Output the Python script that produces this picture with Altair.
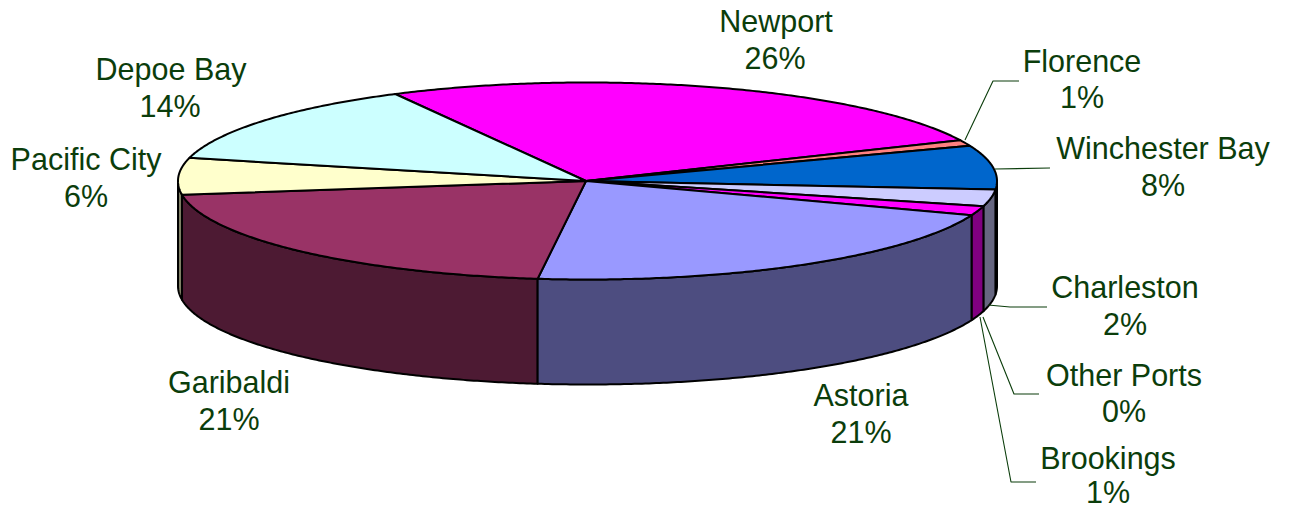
import numpy as np
import pandas as pd
import altair as alt

ports = ["Newport", "Florence", "Winchester Bay", "Charleston", "Other Ports", "Brookings",
         "Astoria", "Garibaldi", "Pacific City", "Depoe Bay"]
labels = ["26%", "1%", "8%", "2%", "0%", "1%", "21%", "21%", "6%", "14%"]
shares = [25.98, 0.97, 7.22, 2.72, 0.0, 1.53, 21.3, 20.83, 6.0, 13.45]
top_colors = ["#FF00FF", "#FF8080", "#0066CC", "#CCCCFF", "#FFFFFF", "#FF00FF",
              "#9999FF", "#993366", "#FFFFCC", "#CCFFFF"]
side_colors = ["#800080", "#804040", "#003366", "#666680", "#808080", "#800080",
               "#4D4D80", "#4D1A33", "#808066", "#668080"]

# layout of the tilted pie, in page pixels
CX, CY, RX, RY, DEPTH, START = 587.5, 181, 409.5, 98.5, 105, 118
AX, AY = 586, 181
STROKE = 2
TEXT = "#0B3D0B"
name_pos = {
    "Newport": (776, 32), "Florence": (1082, 72), "Winchester Bay": (1163, 159),
    "Charleston": (1125, 298), "Other Ports": (1124, 386), "Brookings": (1108, 469),
    "Astoria": (861, 406), "Garibaldi": (229, 393), "Pacific City": (86, 170),
    "Depoe Bay": (171, 80),
}
pct_pos = {
    "Newport": (775, 69), "Florence": (1082, 108), "Winchester Bay": (1163, 196),
    "Charleston": (1125, 335), "Other Ports": (1124, 422), "Brookings": (1108, 503),
    "Astoria": (861, 443), "Garibaldi": (229, 430), "Pacific City": (86, 207),
    "Depoe Bay": (170, 117),
}
leaders = {
    "Florence": [(965, 140), (993, 81), (1019, 81)],
    "Winchester Bay": [(995, 169), (1050, 168)],
    "Charleston": [(988, 305), (1010, 307), (1047, 307)],
    "Other Ports": [(983, 317), (1014, 394), (1039, 394)],
    "Brookings": [(980, 317), (1011, 482), (1036, 482)],
}

X = alt.Scale(domain=[8, 1282], range=[0, 1274])
Y = alt.Scale(domain=[504, 8], range=[496, 0])


def rim(t):
    r = np.radians(t)
    return CX + RX * np.cos(r), CY - RY * np.sin(r)


def poly(xs, ys, fill, width=STROKE, stroke="#000000"):
    df = pd.DataFrame({"x": xs, "y": ys, "i": range(len(xs))})
    kw = {"fill": fill} if fill else {}
    return alt.Chart(df).mark_line(stroke=stroke, strokeWidth=width, strokeJoin="round", **kw).encode(
        x=alt.X("x:Q", scale=X, axis=None),
        y=alt.Y("y:Q", scale=Y, axis=None),
        order=alt.Order("i:Q"),
    )


cum = START - np.cumsum([0] + [s * 3.6 for s in shares])
sides, tops = [], []
side_order = [8, 7, 2, 3, 5, 6]
for k in side_order:
    a = max(cum[k + 1], -180)
    b = min(cum[k], 0)
    if b <= a:
        continue
    ts = np.linspace(a, b, max(3, int((b - a) * 2)))
    px, py = rim(ts)
    xs = list(px) + list(px[::-1]) + [px[0]]
    ys = list(py) + list(py[::-1] + DEPTH) + [py[0]]
    sides.append(poly(xs, ys, side_colors[k]))

for k in range(len(ports)):
    if shares[k] == 0:
        continue
    ts = np.linspace(cum[k], cum[k + 1], max(3, int(shares[k] * 3.6 * 2)))
    px, py = rim(ts)
    xs = [AX] + list(px) + [AX]
    ys = [AY] + list(py) + [AY]
    tops.append(poly(xs, ys, top_colors[k]))

lead = [poly([p[0] for p in v], [p[1] for p in v], None, width=1.1, stroke=TEXT) for v in leaders.values()]

text_df = pd.DataFrame({
    "x": [name_pos[p][0] for p in ports] + [pct_pos[p][0] for p in ports],
    "y": [name_pos[p][1] for p in ports] + [pct_pos[p][1] for p in ports],
    "t": ports + labels,
})
text = alt.Chart(text_df).mark_text(
    font="Liberation Sans", fontSize=30.5, color=TEXT, align="center", baseline="alphabetic",
).encode(
    x=alt.X("x:Q", scale=X, axis=None),
    y=alt.Y("y:Q", scale=Y, axis=None),
    text="t:N",
)

chart = alt.layer(*sides, *tops, *lead, text).properties(
    width=1274, height=496, padding=0, background="#FFFFFF", autosize=alt.AutoSizeParams(type="none")
).configure_view(stroke=None)

chart.save("out.html", embed_options={"renderer": "svg", "actions": False})
